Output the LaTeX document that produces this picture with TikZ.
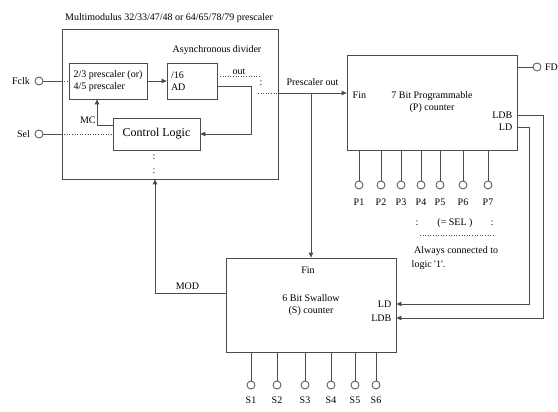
\documentclass[tikz,border=0pt]{standalone}
\usepackage{fontspec}
\setmainfont{Liberation Serif}
\usetikzlibrary{arrows.meta,positioning}
\begin{document}
\begin{tikzpicture}[x=1pt, y=-1pt, line width=0.8pt, draw=black!70,
  blk/.style={draw, inner sep=0pt},
  pin/.style={circle, draw, inner sep=0pt, minimum size=8pt},
  arr/.style={-{Triangle[length=5pt,width=4.5pt]}},
  dots/.style={dotted, line width=0.6pt}]
  \useasboundingbox (0,0) rectangle (558,412);
  % multimodulus prescaler and its inner blocks
  \node[blk, minimum width=216, minimum height=150] (mm) at (170,104) {};
  \node (ttl) at (169,18) {Multimodulus 32/33/47/48 or 64/65/78/79 prescaler};
  \node[blk, minimum width=78, minimum height=36, align=left] (presc) at (108,81) {2/3 prescaler (or)\\4/5 prescaler};
  \node[blk, minimum width=50, minimum height=36, text width=42, align=left] (ad) at (192,81) {/16\\AD};
  \node (adl) at (217,50) {Asynchronous divider};
  \node[blk, minimum width=87, minimum height=32, font=\large] (ctl) at (156.5,134) {Control Logic};
  \node (d1) at (154,157) {:}; \node (d2) at (154,171) {:};
  \node[pin] (fclk) at (39,81) {}; \node[left=1pt of fclk] (fclkl) {Fclk};
  \node[pin] (sel) at (39,134) {}; \node[left=1pt of sel] (sell) {Sel};
  \draw (fclk) -- (fclk -| mm.west); \draw[dots] (fclk -| mm.west) -- (presc.west);
  \draw (sel) -- (sel -| mm.west); \draw[dots] (sel -| mm.west) -- (ctl.west);
  \draw[arr] (presc) -- (ad);
  \draw[arr] ([yshift=-5pt]ad.east) -- ++(34,0) |- (ctl.east);
  \draw[arr] ([yshift=9pt]ctl.west) -| ([xshift=-11pt]presc.south) node[pos=0.5, above left, inner sep=1pt] (mcl) {MC};
  \draw[dots] ([yshift=5pt]ad.east) -- ++(43,0) node[midway, above, inner sep=1pt] (outl) {out};
  \node (c1) at (261,83) {:};
  % programmable counter
  \node[blk, minimum width=170, minimum height=95, align=center] (pcnt) at (432,102.5) {7 Bit Programmable\\(P) counter};
  \node[anchor=west] (pfin) at (349,95) {Fin};
  \node[anchor=east] (pldb) at (516,115) {LDB}; \node[anchor=east] (pld) at (516,127) {LD};
  \node[pin] (fd) at (537,67) {}; \node[right=0pt of fd] (fdl) {FD};
  \draw (fd -| pcnt.east) -- (fd);
  \foreach \x [count=\i] in {359,381,401,421,440,463,488} {
    \node[pin] (p\i) at (\x,185) {}; \node (pl\i) at (\x,202) {P\i};
    \draw (p\i |- pcnt.south) -- (p\i);
  }
  \node (sc1) at (417,223) {:}; \node (selx) at (455,223) {(= SEL )}; \node (sc2) at (492,223) {:};
  \coordinate (n1) at (420,235); \coordinate (n2) at (493,235); \draw[dots] (n1) -- (n2);
  \node[anchor=west, align=left, font=\fontsize{10}{14}\selectfont] (note) at (408,258) {~Always connected to\\logic \textquotesingle 1\textquotesingle.};
  % swallow counter
  \node[blk, minimum width=170, minimum height=94, align=center] (scnt) at (311,305) {6 Bit Swallow\\(S) counter};
  \node (sfin) at (308,270) {Fin};
  \node[anchor=east] (sld) at (395,304) {LD}; \node[anchor=east] (sldb) at (395,318) {LDB};
  \foreach \x [count=\i] in {251,277,305,331,355,376} {
    \node[pin] (s\i) at (\x,385) {}; \node (sl\i) at (\x,400) {S\i};
    \draw (s\i |- scnt.south) -- (s\i);
  }
  % prescaler out and feedback wires
  \coordinate (po) at (258,93);
  \draw[dots] (po) -- (po -| mm.east);
  \draw[arr] (po -| mm.east) -- (po -| pcnt.west) node[midway, above=4pt] (pol) {Prescaler out};
  \draw[arr] (po -| scnt.north) -- (scnt.north);
  \draw[arr] ([yshift=12pt]scnt.west) -| ([xshift=-15pt]mm.south) node[pos=0.27, above] (modl) {MOD};
  \draw[arr] (pcnt.east |- pldb) -- ++(26,0) |- (scnt.east |- sldb);
  \draw[arr] (pcnt.east |- pld) -- ++(12,0) |- (scnt.east |- sld);
\end{tikzpicture}
\end{document}
